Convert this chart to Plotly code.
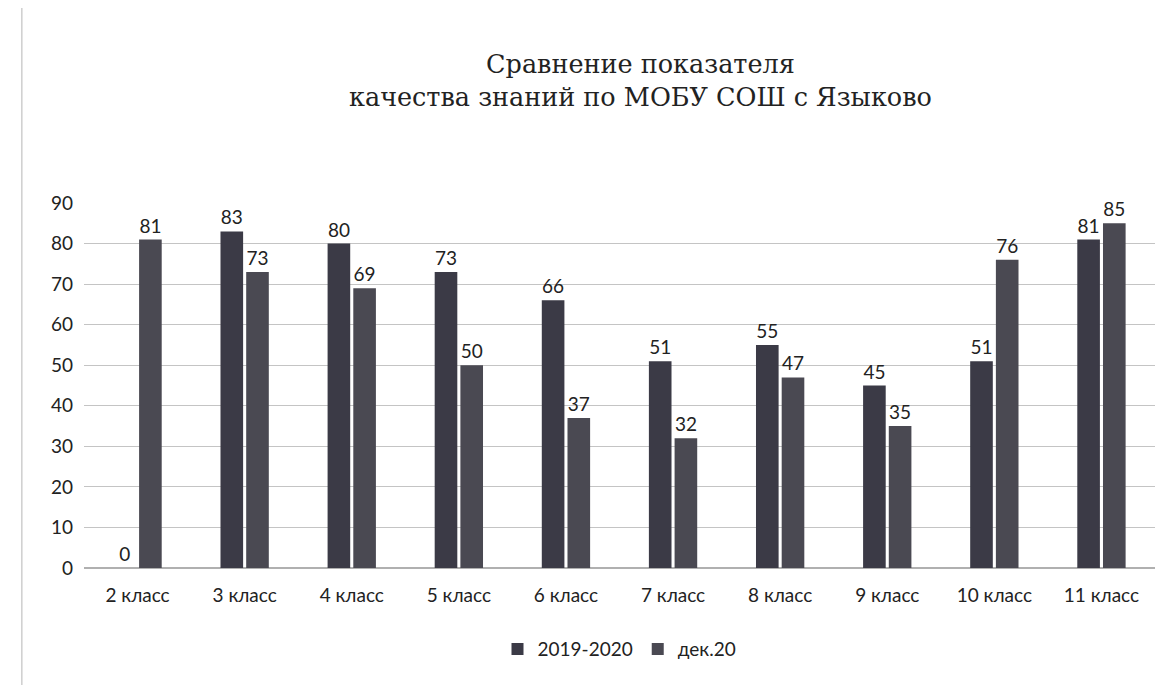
import plotly.graph_objects as go

categories = ["2 класс", "3 класс", "4 класс", "5 класс", "6 класс",
              "7 класс", "8 класс", "9 класс", "10 класс", "11 класс"]
series_2019 = [0, 83, 80, 73, 66, 51, 55, 45, 51, 81]
series_dec20 = [81, 73, 69, 50, 37, 32, 47, 35, 76, 85]
y_ticks = [0, 10, 20, 30, 40, 50, 60, 70, 80, 90]
title_lines = ["Сравнение показателя", "качества знаний по МОБУ СОШ с Языково"]

lab_font = dict(family="Lato, 'Open Sans', sans-serif", size=19, color="#222")

fig = go.Figure()
fig.add_trace(go.Bar(x=categories, y=series_2019, name="2019-2020",
                     marker=dict(color="#3b3a46", line=dict(width=0)),
                     text=series_2019, textposition="outside",
                     textfont=lab_font, cliponaxis=False))
fig.add_trace(go.Bar(x=categories, y=series_dec20, name="дек.20",
                     marker=dict(color="#4a4952", line=dict(width=0)),
                     text=series_dec20, textposition="outside",
                     textfont=lab_font, cliponaxis=False))

title_html = "<br>".join(
    '<span style="font-family:DejaVu Serif">' + t + "</span>" for t in title_lines)
fig.add_annotation(text=title_html, xref="paper", yref="paper",
                   x=0.52, y=1.0, yshift=156, xanchor="center", yanchor="top",
                   showarrow=False, align="center",
                   font=dict(family="DejaVu Serif", size=25.5, color="#222"))

fig.update_layout(
    width=1167, height=685,
    paper_bgcolor="white", plot_bgcolor="white",
    margin=dict(l=76, r=20, t=195, b=125),
    barmode="group", bargap=0.52, bargroupgap=0.12,
    font=dict(family="Lato, 'Open Sans', sans-serif", size=19, color="#222"),
    yaxis=dict(range=[0, 90], tickvals=y_ticks, showgrid=True,
               gridcolor="#c4c4c4", gridwidth=1, zeroline=True,
               zerolinecolor="#b0b0b0", ticks="", ticklabelstandoff=10,
               tickfont=dict(size=19, color="#222"), showline=False),
    xaxis=dict(showline=False, ticks="", tickfont=dict(size=19, color="#222"),
               ticklabelstandoff=14),
    legend=dict(orientation="h", x=0.5, xanchor="center", y=-0.17, yanchor="top",
                font=dict(size=19, color="#222"), itemwidth=30,
                traceorder="normal"),
    shapes=[dict(type="rect", xref="paper", yref="paper",
                 x0=-0.058, x1=1.01, y0=-0.36, y1=1.62,
                 line=dict(color="#b5b5b5", width=1), fillcolor="rgba(0,0,0,0)")],
)

fig.write_html("out.html")
